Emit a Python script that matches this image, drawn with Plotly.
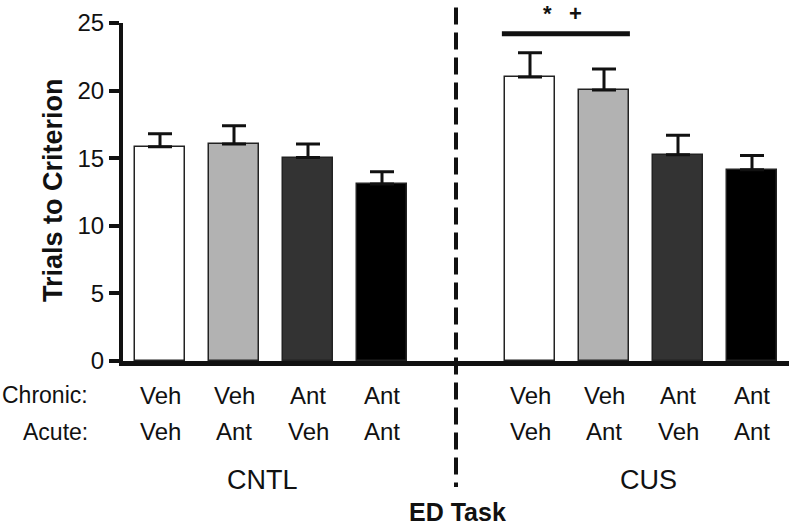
import plotly.graph_objects as go

# ---- data ----
groups = ["CNTL", "CUS"]
chronic = ["Veh", "Veh", "Ant", "Ant"]
acute = ["Veh", "Ant", "Veh", "Ant"]
cntl_means = [15.85, 16.05, 15.05, 13.1]
cntl_sem = [0.95, 1.35, 1.0, 0.9]
cus_means = [21.0, 20.05, 15.25, 14.15]
cus_sem = [1.8, 1.55, 1.45, 1.05]
y_ticks = [0, 5, 10, 15, 20, 25]
sig_bar_y = 24.2
sig_marks = ["*", "+"]

# ---- layout helpers ----
positions = [0, 1, 2, 3, 5, 6, 7, 8]
colors = ["#ffffff", "#b2b2b2", "#333333", "#000000"] * 2
means = cntl_means + cus_means
sems = cntl_sem + cus_sem
FONT = "Liberation Sans, Arial, Helvetica, sans-serif"

fig = go.Figure()
fig.add_trace(go.Bar(
    x=positions, y=means, width=0.676,
    marker=dict(color=colors, line=dict(color="#222222", width=1.5)),
    error_y=dict(type="data", symmetric=False, array=sems,
                 arrayminus=[0] * len(sems), color="#111111",
                 thickness=3, width=12),
    showlegend=False, hoverinfo="y",
))

annotations = []
LBL = 23
# row labels
annotations.append(dict(xref="paper", yref="paper", x=-0.05, y=-0.101,
                        text="Chronic:", showarrow=False, xanchor="right",
                        yanchor="middle", font=dict(size=LBL, color="#111")))
annotations.append(dict(xref="paper", yref="paper", x=-0.05, y=-0.21,
                        text="Acute:", showarrow=False, xanchor="right",
                        yanchor="middle", font=dict(size=LBL, color="#111")))
labels_chronic = chronic * 2
labels_acute = acute * 2
for p, c, a in zip(positions, labels_chronic, labels_acute):
    annotations.append(dict(xref="x", yref="paper", x=p, y=-0.101, text=c,
                            showarrow=False, yanchor="middle",
                            font=dict(size=24, color="#111")))
    annotations.append(dict(xref="x", yref="paper", x=p, y=-0.21, text=a,
                            showarrow=False, yanchor="middle",
                            font=dict(size=24, color="#111")))
# group labels
for g, xpos in zip(groups, [1.38, 6.6]):
    annotations.append(dict(xref="x", yref="paper", x=xpos, y=-0.353, text=g,
                            showarrow=False, yanchor="middle",
                            font=dict(size=27, color="#111")))
# x title
annotations.append(dict(xref="paper", yref="paper", x=0.502, y=-0.447,
                        text="<b>ED Task</b>", showarrow=False,
                        yanchor="middle", font=dict(size=25, color="#111")))
# y title
annotations.append(dict(xref="paper", yref="paper", x=-0.105, y=0.506,
                        text="<b>Trials to Criterion</b>", showarrow=False,
                        textangle=-90, xanchor="center", yanchor="middle",
                        font=dict(size=27, color="#111")))
# significance marks
for m, xpos in zip(sig_marks, [5.23, 5.61]):
    annotations.append(dict(xref="x", yref="paper", x=xpos, y=1.027,
                            text="<b>" + m + "</b>", showarrow=False,
                            yanchor="middle", font=dict(size=22, color="#111")))

shapes = [
    dict(type="line", xref="x", yref="y", x0=4.62, x1=6.35,
         y0=sig_bar_y, y1=sig_bar_y, line=dict(color="#111", width=5)),
    dict(type="line", xref="paper", yref="paper", x0=0.5, x1=0.5,
         y0=1.046, y1=-0.373,
         line=dict(color="#111", width=4, dash="17px,8px")),
]

fig.update_layout(
    width=792, height=527,
    margin=dict(l=123, r=3, t=23, b=166),
    paper_bgcolor="white", plot_bgcolor="white",
    font=dict(family=FONT, color="#111"),
    annotations=annotations, shapes=shapes,
    xaxis=dict(range=[-0.5, 8.5], showticklabels=False, ticks="",
               showgrid=False, zeroline=False, showline=True,
               linecolor="#111", linewidth=5),
    yaxis=dict(range=[0, 25], tickvals=y_ticks, ticks="outside", ticklen=10,
               tickwidth=4, tickcolor="#111", showgrid=False, zeroline=False,
               showline=True, linecolor="#111", linewidth=4,
               tickfont=dict(size=24, color="#111")),
    bargap=0,
)

fig.write_html("out.html",
               config={"displayModeBar": False},
               post_script="document.body.style.margin='0';"
                           "document.body.style.overflow='hidden';")
